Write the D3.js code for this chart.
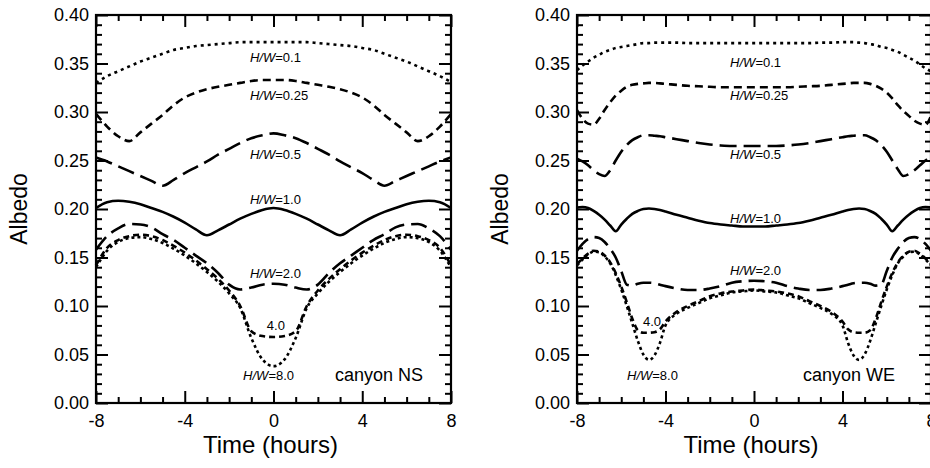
<!DOCTYPE html>
<html>
<head>
<meta charset="utf-8">
<script src="https://cdn.jsdelivr.net/npm/d3@7"></script>
<style>
  body { margin: 0; background: #fff; }
  svg { display: block; }
</style>
</head>
<body>
<div class="chart"></div>
<script>
// Paramètres de la figure
const width = 930;
const height = 468;
const plotTop = 15;
const plotBottom = 403;
const fontFamily = "'Liberation Sans', Arial, Helvetica, sans-serif";

// Données : heures (axe x) et albédo par rapport H/W
const ratios = ['0.1', '0.25', '0.5', '1.0', '2.0', '4.0', '8.0'];

// Canyon NS
const hoursNS = [-8, -7.5, -7, -6.5, -6, -5.5, -5, -4.5, -4, -3.5, -3, -2.5, -2, -1.5, -1, -0.5, 0,
	0.5, 1, 1.5, 2, 2.5, 3, 3.5, 4, 4.5, 5, 5.5, 6, 6.5, 7, 7.5, 8];
const nsHW01 = [0.330, 0.337, 0.342, 0.347, 0.352, 0.356, 0.360, 0.364, 0.366, 0.368, 0.369, 0.370, 0.371, 0.372, 0.372, 0.372, 0.372,
	0.372, 0.372, 0.372, 0.371, 0.370, 0.369, 0.368, 0.366, 0.364, 0.360, 0.356, 0.352, 0.347, 0.342, 0.337, 0.331];
const nsHW025 = [0.298, 0.285, 0.275, 0.270, 0.279, 0.288, 0.297, 0.307, 0.315, 0.320, 0.3235, 0.326, 0.328, 0.330, 0.332, 0.333, 0.333,
	0.333, 0.332, 0.330, 0.328, 0.326, 0.3235, 0.320, 0.315, 0.307, 0.297, 0.288, 0.279, 0.270, 0.275, 0.285, 0.298];
const nsHW05 = [0.253, 0.249, 0.244, 0.239, 0.234, 0.229, 0.224, 0.230, 0.237, 0.243, 0.249, 0.256, 0.262, 0.268, 0.273, 0.276, 0.278,
	0.276, 0.273, 0.268, 0.262, 0.256, 0.249, 0.243, 0.237, 0.230, 0.224, 0.229, 0.234, 0.239, 0.244, 0.249, 0.253];
const nsHW10 = [0.201, 0.207, 0.2085, 0.2075, 0.205, 0.201, 0.197, 0.192, 0.186, 0.179, 0.173, 0.178, 0.184, 0.190, 0.195, 0.199, 0.201,
	0.199, 0.195, 0.190, 0.184, 0.178, 0.173, 0.179, 0.186, 0.192, 0.197, 0.201, 0.205, 0.2075, 0.2085, 0.207, 0.201];
const nsHW20 = [0.158, 0.172, 0.180, 0.1845, 0.184, 0.181, 0.174, 0.168, 0.160, 0.152, 0.144, 0.134, 0.122, 0.117, 0.119, 0.122, 0.123,
	0.122, 0.119, 0.117, 0.122, 0.134, 0.144, 0.152, 0.160, 0.168, 0.174, 0.181, 0.184, 0.1845, 0.180, 0.172, 0.158];
const nsHW40 = [0.142, 0.160, 0.168, 0.172, 0.1735, 0.172, 0.168, 0.162, 0.155, 0.147, 0.138, 0.128, 0.116, 0.100, 0.074, 0.069, 0.068,
	0.069, 0.074, 0.100, 0.116, 0.128, 0.138, 0.147, 0.155, 0.162, 0.168, 0.172, 0.1735, 0.172, 0.168, 0.160, 0.142];
const nsHW80 = [0.140, 0.157, 0.166, 0.170, 0.171, 0.169, 0.165, 0.159, 0.152, 0.144, 0.135, 0.125, 0.113, 0.098, 0.067, 0.045, 0.038,
	0.045, 0.067, 0.098, 0.113, 0.125, 0.135, 0.144, 0.152, 0.159, 0.165, 0.169, 0.171, 0.170, 0.166, 0.157, 0.140];

// Canyon WE (pas plus fin près des bords)
const hoursWE = [-8, -7.75, -7.5, -7.25, -7, -6.75, -6.5, -6.25, -6, -5.75, -5.5, -5.25, -5, -4.75, -4.5, -4.25, -4,
	-3.5, -3, -2.5, -2, -1.5, -1, -0.5, 0, 0.5, 1, 1.5, 2, 2.5, 3, 3.5,
	4, 4.25, 4.5, 4.75, 5, 5.25, 5.5, 5.75, 6, 6.25, 6.5, 6.75, 7, 7.25, 7.5, 7.75, 8];
const weHW01 = [0.343, 0.348, 0.352, 0.356, 0.359, 0.362, 0.364, 0.366, 0.367, 0.368, 0.369, 0.370, 0.371, 0.371, 0.3715, 0.3715, 0.3715,
	0.3715, 0.371, 0.371, 0.371, 0.371, 0.371, 0.371, 0.371, 0.371, 0.371, 0.371, 0.371, 0.371, 0.3715, 0.3715,
	0.372, 0.372, 0.372, 0.3715, 0.371, 0.370, 0.369, 0.367, 0.366, 0.364, 0.362, 0.359, 0.356, 0.353, 0.349, 0.345, 0.342];
const weHW025 = [0.302, 0.293, 0.288, 0.287, 0.293, 0.302, 0.310, 0.317, 0.322, 0.326, 0.328, 0.329, 0.3295, 0.330, 0.330, 0.3295, 0.329,
	0.328, 0.327, 0.3265, 0.326, 0.3255, 0.3255, 0.3255, 0.3255, 0.3255, 0.3255, 0.3255, 0.326, 0.3265, 0.327, 0.328,
	0.329, 0.3295, 0.330, 0.330, 0.330, 0.329, 0.327, 0.324, 0.320, 0.314, 0.307, 0.301, 0.296, 0.291, 0.288, 0.287, 0.296];
const weHW05 = [0.252, 0.249, 0.245, 0.240, 0.236, 0.234, 0.240, 0.250, 0.259, 0.266, 0.271, 0.274, 0.276, 0.276, 0.2755, 0.275, 0.274,
	0.272, 0.270, 0.268, 0.2665, 0.2655, 0.265, 0.265, 0.265, 0.265, 0.265, 0.2655, 0.2665, 0.268, 0.270, 0.272,
	0.274, 0.275, 0.2755, 0.276, 0.276, 0.274, 0.271, 0.266, 0.259, 0.250, 0.241, 0.234, 0.236, 0.240, 0.245, 0.250, 0.254];
const weHW10 = [0.2015, 0.202, 0.201, 0.198, 0.194, 0.189, 0.183, 0.177, 0.184, 0.190, 0.195, 0.198, 0.200, 0.2005, 0.200, 0.199, 0.1975,
	0.194, 0.191, 0.188, 0.1855, 0.184, 0.183, 0.182, 0.182, 0.182, 0.183, 0.184, 0.1855, 0.188, 0.191, 0.194,
	0.1975, 0.199, 0.200, 0.2005, 0.200, 0.198, 0.195, 0.190, 0.184, 0.177, 0.183, 0.189, 0.194, 0.198, 0.201, 0.202, 0.2015];
const weHW20 = [0.157, 0.164, 0.169, 0.171, 0.170, 0.166, 0.159, 0.150, 0.136, 0.122, 0.121, 0.123, 0.124, 0.124, 0.1235, 0.122, 0.1205,
	0.118, 0.1165, 0.1165, 0.118, 0.1205, 0.124, 0.1255, 0.126, 0.1255, 0.124, 0.1205, 0.118, 0.1165, 0.1165, 0.118,
	0.1205, 0.122, 0.1235, 0.124, 0.124, 0.123, 0.121, 0.122, 0.136, 0.150, 0.159, 0.166, 0.170, 0.171, 0.169, 0.164, 0.157];
const weHW40 = [0.143, 0.149, 0.154, 0.157, 0.156, 0.152, 0.145, 0.134, 0.120, 0.104, 0.087, 0.075, 0.0725, 0.0725, 0.073, 0.076, 0.084,
	0.094, 0.100, 0.105, 0.110, 0.113, 0.115, 0.116, 0.117, 0.116, 0.115, 0.113, 0.110, 0.105, 0.100, 0.094,
	0.084, 0.076, 0.073, 0.0725, 0.0725, 0.075, 0.087, 0.104, 0.120, 0.134, 0.145, 0.152, 0.156, 0.157, 0.154, 0.149, 0.143];
const weHW80 = [0.142, 0.148, 0.153, 0.156, 0.1555, 0.151, 0.144, 0.132, 0.117, 0.100, 0.082, 0.064, 0.050, 0.0445, 0.049, 0.062, 0.080,
	0.092, 0.098, 0.103, 0.108, 0.111, 0.114, 0.115, 0.116, 0.115, 0.114, 0.111, 0.108, 0.103, 0.098, 0.092,
	0.080, 0.062, 0.049, 0.0445, 0.050, 0.064, 0.082, 0.100, 0.117, 0.132, 0.144, 0.151, 0.1555, 0.156, 0.153, 0.148, 0.142];

// Graduations
const hourTicks = [-8, -4, 0, 4, 8];
const hourMinorTicks = [-7, -6, -5, -3, -2, -1, 1, 2, 3, 5, 6, 7];
const albedoTicks = [0, 0.05, 0.10, 0.15, 0.20, 0.25, 0.30, 0.35, 0.40];
const albedoMinorTicks = d3.range(0, 0.401, 0.01).filter(v => Math.round(v * 100) % 5 !== 0);

// Annotations (coordonnées en unités des données)
const labelsNS = [
	{ ratio: '0.1', hour: -1.06, albedo: 0.352 },
	{ ratio: '0.25', hour: -1.06, albedo: 0.312 },
	{ ratio: '0.5', hour: -1.06, albedo: 0.2515 },
	{ ratio: '1.0', hour: -1.06, albedo: 0.205 },
	{ ratio: '2.0', hour: -1.06, albedo: 0.129 },
	{ ratio: '4.0', hour: -0.3, albedo: 0.0755, short: true },
	{ ratio: '8.0', hour: -1.37, albedo: 0.0235 }
];
const labelsWE = [
	{ ratio: '0.1', hour: -1.08, albedo: 0.346 },
	{ ratio: '0.25', hour: -1.08, albedo: 0.312 },
	{ ratio: '0.5', hour: -1.08, albedo: 0.2515 },
	{ ratio: '1.0', hour: -1.08, albedo: 0.186 },
	{ ratio: '2.0', hour: -1.08, albedo: 0.132 },
	{ ratio: '4.0', hour: -5.02, albedo: 0.0795, short: true },
	{ ratio: '8.0', hour: -5.74, albedo: 0.0235 }
];

// Styles des courbes (dans l'ordre des rapports H/W)
const dashes = ['3,4', '8,5', '17,7', null, '16,7', '6,4', '3,3'];

const panels = [
	{ caption: 'canyon NS', captionHour: 2.77, hours: hoursNS, series: [nsHW01, nsHW025, nsHW05, nsHW10, nsHW20, nsHW40, nsHW80], labels: labelsNS, x0: 96, x1: 451 },
	{ caption: 'canyon WE', captionHour: 2.21, hours: hoursWE, series: [weHW01, weHW025, weHW05, weHW10, weHW20, weHW40, weHW80], labels: labelsWE, x0: 577, x1: 931 }
];

function setup() {
	const svg = d3.select('.chart')
		.append('svg')
		.attr('width', width)
		.attr('height', height)
		.style('font-family', fontFamily);

	svg.append('rect').attr('width', width).attr('height', height).attr('fill', '#fff');

	panels.forEach(p => drawPanel(svg, p));
}

function styleAxis(g) {
	g.select('.domain').remove();
	g.selectAll('.tick line').attr('stroke', '#000').attr('stroke-width', 2);
	g.selectAll('.tick text').attr('fill', '#000');
	g.attr('font-size', 18).attr('font-family', fontFamily);
}

function drawPanel(svg, p) {
	const x = d3.scaleLinear().domain([-8, 8]).range([p.x0, p.x1]);
	const y = d3.scaleLinear().domain([0, 0.4]).range([plotBottom, plotTop]);
	const g = svg.append('g');

	// Courbes
	p.series.forEach((values, i) => {
		const line = d3.line()
			.x((d, j) => x(p.hours[j]))
			.y(d => y(d))
			.curve(d3.curveMonotoneX);
		g.append('path')
			.datum(values)
			.attr('d', line)
			.attr('fill', 'none')
			.attr('stroke', '#000')
			.attr('stroke-width', 2.6)
			.attr('stroke-dasharray', dashes[i]);
	});

	// Axes (graduations vers l'intérieur)
	g.append('g')
		.attr('transform', `translate(0, ${plotBottom})`)
		.call(d3.axisBottom(x).tickValues(hourTicks).tickSizeInner(-12).tickSizeOuter(0).tickPadding(11).tickFormat(d => String(d)))
		.call(styleAxis);
	g.append('g')
		.attr('transform', `translate(0, ${plotBottom})`)
		.call(d3.axisBottom(x).tickValues(hourMinorTicks).tickSizeInner(-6).tickSizeOuter(0).tickFormat(''))
		.call(styleAxis);
	g.append('g')
		.attr('transform', `translate(0, ${plotTop})`)
		.call(d3.axisTop(x).tickValues(hourTicks).tickSizeInner(-12).tickSizeOuter(0).tickFormat(''))
		.call(styleAxis);
	g.append('g')
		.attr('transform', `translate(0, ${plotTop})`)
		.call(d3.axisTop(x).tickValues(hourMinorTicks).tickSizeInner(-6).tickSizeOuter(0).tickFormat(''))
		.call(styleAxis);
	g.append('g')
		.attr('transform', `translate(${p.x0}, 0)`)
		.call(d3.axisLeft(y).tickValues(albedoTicks).tickSizeInner(-12).tickSizeOuter(0).tickPadding(7).tickFormat(d3.format('.2f')))
		.call(styleAxis);
	g.append('g')
		.attr('transform', `translate(${p.x0}, 0)`)
		.call(d3.axisLeft(y).tickValues(albedoMinorTicks).tickSizeInner(-6).tickSizeOuter(0).tickFormat(''))
		.call(styleAxis);
	g.append('g')
		.attr('transform', `translate(${p.x1}, 0)`)
		.call(d3.axisRight(y).tickValues(albedoTicks).tickSizeInner(-12).tickSizeOuter(0).tickFormat(''))
		.call(styleAxis);
	g.append('g')
		.attr('transform', `translate(${p.x1}, 0)`)
		.call(d3.axisRight(y).tickValues(albedoMinorTicks).tickSizeInner(-6).tickSizeOuter(0).tickFormat(''))
		.call(styleAxis);

	// Cadre
	g.append('rect')
		.attr('x', p.x0)
		.attr('y', plotTop)
		.attr('width', p.x1 - p.x0)
		.attr('height', plotBottom - plotTop)
		.attr('fill', 'none')
		.attr('stroke', '#000')
		.attr('stroke-width', 2.2);

	// Titres des axes
	g.append('text')
		.attr('transform', `translate(${p.x0 - 69}, ${(plotTop + plotBottom) / 2}) rotate(-90)`)
		.attr('text-anchor', 'middle')
		.attr('font-size', 23)
		.text('Albedo');
	g.append('text')
		.attr('x', (p.x0 + p.x1) / 2 - 3)
		.attr('y', 453)
		.attr('text-anchor', 'middle')
		.attr('font-size', 24)
		.text('Time (hours)');

	// Étiquettes H/W
	const lab = g.append('g').attr('font-size', 13);
	p.labels.forEach(l => {
		const t = lab.append('text')
			.attr('x', x(l.hour))
			.attr('y', y(l.albedo));
		if (l.short) {
			t.text(l.ratio);
		} else {
			t.append('tspan').attr('font-style', 'italic').text('H/W');
			t.append('tspan').text('=' + l.ratio);
		}
	});

	g.append('text')
		.attr('x', x(p.captionHour))
		.attr('y', y(0.0225))
		.attr('font-size', 18)
		.text(p.caption);
}

setup();
</script>
</body>
</html>
